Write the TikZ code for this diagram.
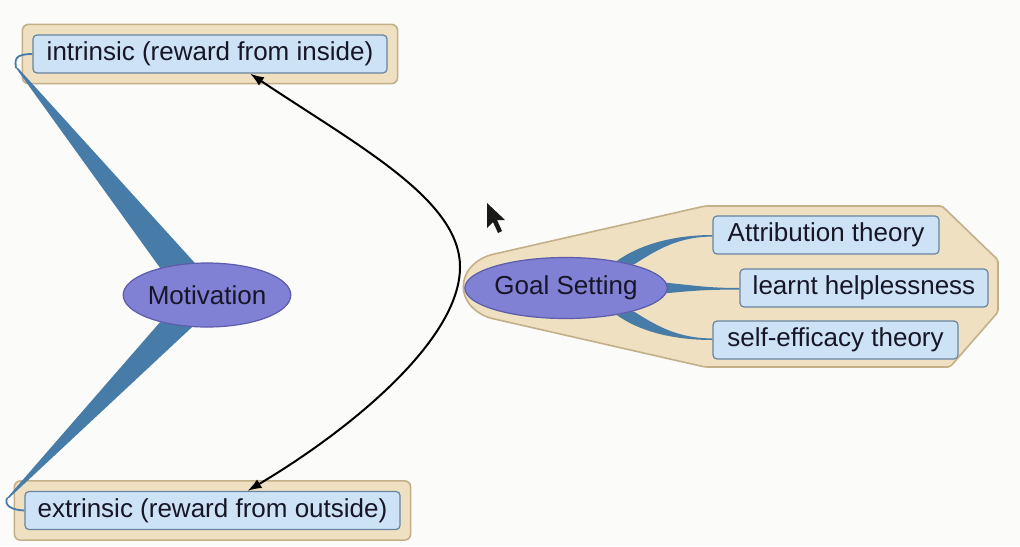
\documentclass[tikz,border=0pt]{standalone}
\usepackage{fontspec}
\setmainfont{Liberation Sans}
\usetikzlibrary{calc, arrows.meta, shapes.geometric, fit, backgrounds}
\definecolor{tanfill}{RGB}{238,224,192}
\definecolor{tanline}{RGB}{196,176,136}
\definecolor{boxfill}{RGB}{206,226,246}
\definecolor{boxline}{RGB}{104,132,160}
\definecolor{hubfill}{RGB}{128,128,212}
\definecolor{hubline}{RGB}{92,92,170}
\definecolor{branchc}{RGB}{72,124,168}
\definecolor{txt}{RGB}{22,22,38}
\definecolor{paper}{RGB}{251,251,249}
\tikzstyle{grp}=[draw=tanline, fill=tanfill, rounded corners=3pt, line width=0.8pt]
\tikzstyle{topic}=[draw=boxline, fill=boxfill, rounded corners=2pt, line width=0.6pt,
minimum height=19pt, inner sep=2pt, text=txt]
\tikzstyle{hub}=[ellipse, draw=hubline, fill=hubfill, line width=0.6pt, inner sep=0pt, text=txt]
\tikzstyle{branch}=[fill=branchc]
\tikzstyle{twig}=[draw=branchc, line width=0.9pt]

\begin{document}
\begin{tikzpicture}[x=0.5pt, y=-0.5pt, >={Latex[length=7pt,width=5pt]}, font=\fontsize{13}{15}\selectfont]
      \useasboundingbox (0,0) rectangle (1020,546);
      % motivation
      \node [topic, minimum width=177pt] (intr) at (210,54) {intrinsic (reward from inside)};
      \node [topic, minimum width=187.5pt] (extr) at (212.5,510.5) {extrinsic (reward from outside)};
      \node [hub, minimum width=81pt, minimum height=32pt] (mot) at (207,295) {Motivation};
      \coordinate (tl) at (16,68);
      \coordinate (bl) at (7,498);
      % goal setting
      \node [hub, minimum width=93.5pt, minimum height=30.5pt] (goal) at (566,288) {Goal Setting};
      \node [topic, minimum width=113pt] (attr) at (826,235) {Attribution theory};
      \node [topic, minimum width=124pt] (lhelp) at (864,288) {learnt helplessness};
      \node [topic, minimum width=122.5pt] (seff) at (835.5,340) {self-efficacy theory};
      \draw[<->, line width=1pt] ($(intr.south)+(40,0)$) .. controls (360,147) and (460,200) .. (460,267)
            .. controls (460,340) and (350,430) .. ($(extr.north)+(35,0)$);
      % pointer
      \fill[black!90] (487,203) -- (487,228) -- (493,222) -- (498,233) -- (502,231) -- (497,220) -- (505,220) -- cycle;
      \begin{scope}[on background layer]
        \fill[paper] (0,0) rectangle (1020,546);
        \draw[grp, rounded corners=1pt] (705,206) -- (942,206) -- (998,260) -- (998,312) -- (950,367) -- (705,367)
              -- (490,318) .. controls (455,305) and (455,268) .. (490,255) -- cycle;
        \node [grp, fit=(intr), inner sep=5pt] (intrgrp) {};
        \node [grp, fit=(extr), inner sep=5pt] (extrgrp) {};
        \fill[branch] (tl) -- (mot.150) -- (mot.111) -- ($(tl)+(2,0)$) -- cycle;
        \fill[branch] (bl) -- (mot.-150) -- (mot.-115) -- ($(bl)+(2,0)$) -- cycle;
        \draw[twig] (intr.west) .. controls (14,54) and (15,60) .. (tl);
        \draw[twig] (bl) .. controls (4,506) and (12,510) .. (extr.west);
        \fill[branch] (goal.28) .. controls +(25,-18) and +(-35,0) .. (attr.west)
              -- ([yshift=-0.8pt]attr.west) .. controls +(-35,0) and +(22,-14) .. (goal.19) -- cycle;
        \fill[branch] (goal.3) .. controls +(30,3) and +(-30,0) .. (lhelp.west)
              -- ([yshift=-0.8pt]lhelp.west) .. controls +(-30,0) and +(30,-3) .. (goal.-3) -- cycle;
        \fill[branch] (goal.-28) .. controls +(25,18) and +(-35,0) .. (seff.west)
              -- ([yshift=0.8pt]seff.west) .. controls +(-35,0) and +(22,14) .. (goal.-19) -- cycle;
      \end{scope}
\end{tikzpicture}
\end{document}
